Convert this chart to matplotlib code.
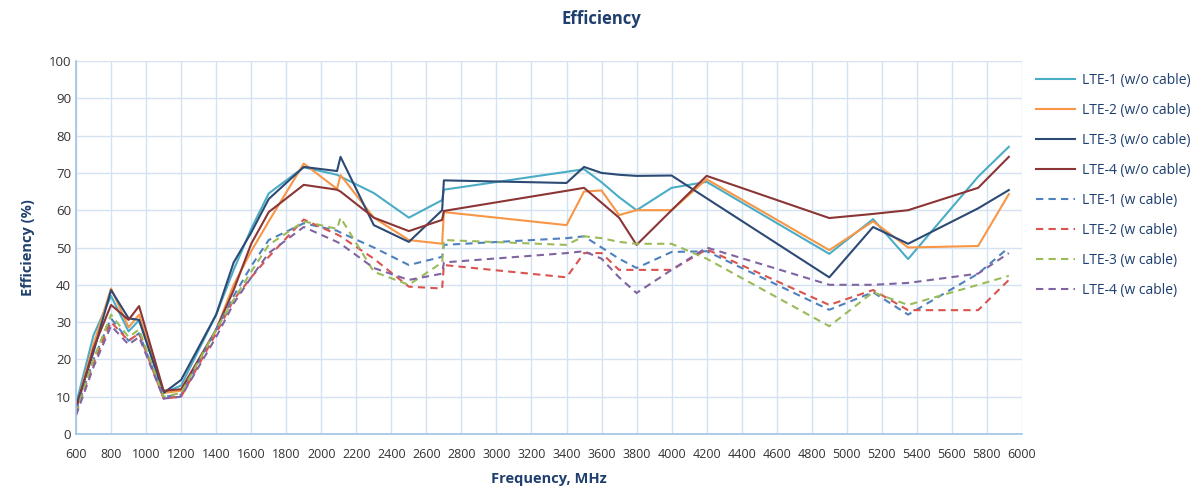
import numpy as np
from matplotlib import pyplot as plt

# frequency points (MHz)
freq = [600, 700, 800, 900, 960, 1100, 1200, 1400, 1500, 1600, 1700, 1900, 2090, 2110,
        2300, 2500, 2690, 2700, 3400, 3500, 3600, 3700, 3800, 4000, 4200, 4900, 5150,
        5350, 5750, 5925]

# efficiency (%) without cable
lte1_wo = [8, 26.5, 37, 27.5, 30.5, 11, 13, 32, 44, 55, 64.5, 71.5, 69.5, 69, 64.6, 58,
           62.7, 65.5, 70.3, 71, 67.5, 63.5, 60, 66, 67.6, 48.3, 57.6, 46.9, 69, 77]
lte2_wo = [7, 24, 39, 28.6, 32, 11, 11.6, 28, 40, 49, 57, 72.5, 65.7, 69.4, 58, 52,
           51, 59.5, 56, 65, 65.3, 58.7, 60, 60, 68.3, 49.3, 57, 50, 50.4, 64.3]
lte3_wo = [7.5, 22, 38.6, 31, 30.6, 11, 14.5, 32, 46, 54, 63, 71.6, 70.5, 74.3, 56, 51.5,
           60, 68, 67.3, 71.6, 70, 69.5, 69.2, 69.3, 63.2, 42, 55.5, 51, 60.5, 65.4]
lte4_wo = [6.5, 23, 34.6, 30.6, 34.3, 11.6, 12, 28, 38.6, 51, 59.5, 66.8, 65.5, 65, 58, 54.4,
           57.4, 59.8, 65.2, 66, 62, 58, 50.7, 60, 69.2, 57.9, 59, 60, 66, 74.3]

# efficiency (%) with cable
lte1_w = [6, 20, 31, 25, 27, 10, 10.5, 28, 37, 45, 52, 56.5, 54.5, 54, 50, 45.3,
          47.5, 50.7, 52.5, 53, 50, 47, 44.5, 48.8, 49, 33.3, 38, 32, 43, 50]
lte2_w = [5.5, 19, 30, 25, 27, 9.5, 10, 27, 36, 42, 47.5, 57.5, 53.5, 53, 47, 39.5,
          39, 45.3, 42, 48.5, 48.5, 44, 44, 44, 49.5, 34.6, 38.6, 33.2, 33.2, 41.3]
lte3_w = [5.5, 20, 32, 26, 28, 10, 11, 28, 36, 43.5, 50.7, 57, 55, 58, 43.5, 40,
          46, 52, 50.7, 53, 52.5, 51.5, 51, 51, 47, 28.9, 38, 34.6, 40, 42.4]
lte4_w = [5, 18, 29, 24, 26, 9.5, 10, 26, 35, 42, 48.5, 55.5, 51.5, 51, 44.5, 41.3,
          43, 46, 48.5, 49, 47, 42, 37.8, 44, 50, 40, 40, 40.5, 43, 48.5]

series = [
    ('LTE-1 (w/o cable)', lte1_wo, '#4BACC6', '-'),
    ('LTE-2 (w/o cable)', lte2_wo, '#F79646', '-'),
    ('LTE-3 (w/o cable)', lte3_wo, '#2C4A74', '-'),
    ('LTE-4 (w/o cable)', lte4_wo, '#8B3535', '-'),
    ('LTE-1 (w cable)', lte1_w, '#4F81BD', '--'),
    ('LTE-2 (w cable)', lte2_w, '#D9534F', '--'),
    ('LTE-3 (w cable)', lte3_w, '#9BBB59', '--'),
    ('LTE-4 (w cable)', lte4_w, '#8064A2', '--'),
]

txt = '#1F3F6E'
plt.rcParams['font.family'] = ['Open Sans', 'DejaVu Sans']

fig = plt.figure(figsize=(12.03, 4.92), dpi=100)
ax = fig.add_axes([0.0632, 0.1179, 0.7863, 0.7581])

for name, vals, col, ls in series:
    if ls == '--':
        ax.plot(freq, vals, color=col, linewidth=1.5, label=name, dashes=(3.5, 2.5))
    else:
        ax.plot(freq, vals, color=col, linewidth=1.5, label=name)

ax.set_xlim(600, 6000)
ax.set_ylim(0, 100)
ax.set_xticks(np.arange(600, 6001, 200))
ax.set_yticks(np.arange(0, 101, 10))
ax.tick_params(axis='both', length=0, labelsize=9.5, colors='#333333')
ax.tick_params(axis='x', pad=10, labelsize=9)
ax.grid(color='#D5E2F2', linewidth=1)
ax.set_axisbelow(True)
for s in ['top', 'right']:
    ax.spines[s].set_visible(False)
for s in ['left', 'bottom']:
    ax.spines[s].set_color('#9DC3E6')
    ax.spines[s].set_linewidth(1.2)

ax.set_xlabel('Frequency, MHz', fontsize=10.5, fontweight='bold', color=txt, labelpad=8)
ax.set_ylabel('Efficiency (%)', fontsize=10.5, fontweight='bold', color=txt, labelpad=10)
fig.text(0.5, 0.962, 'Efficiency', ha='center', va='center', fontsize=12,
         fontweight='bold', color=txt)

leg = fig.legend(loc='upper left', bbox_to_anchor=(0.851, 0.878), frameon=False,
                 fontsize=10, handlelength=2.8, labelspacing=1.08, handletextpad=0.5)
for t in leg.get_texts():
    t.set_color(txt)

fig.savefig('out.png', dpi=100)
